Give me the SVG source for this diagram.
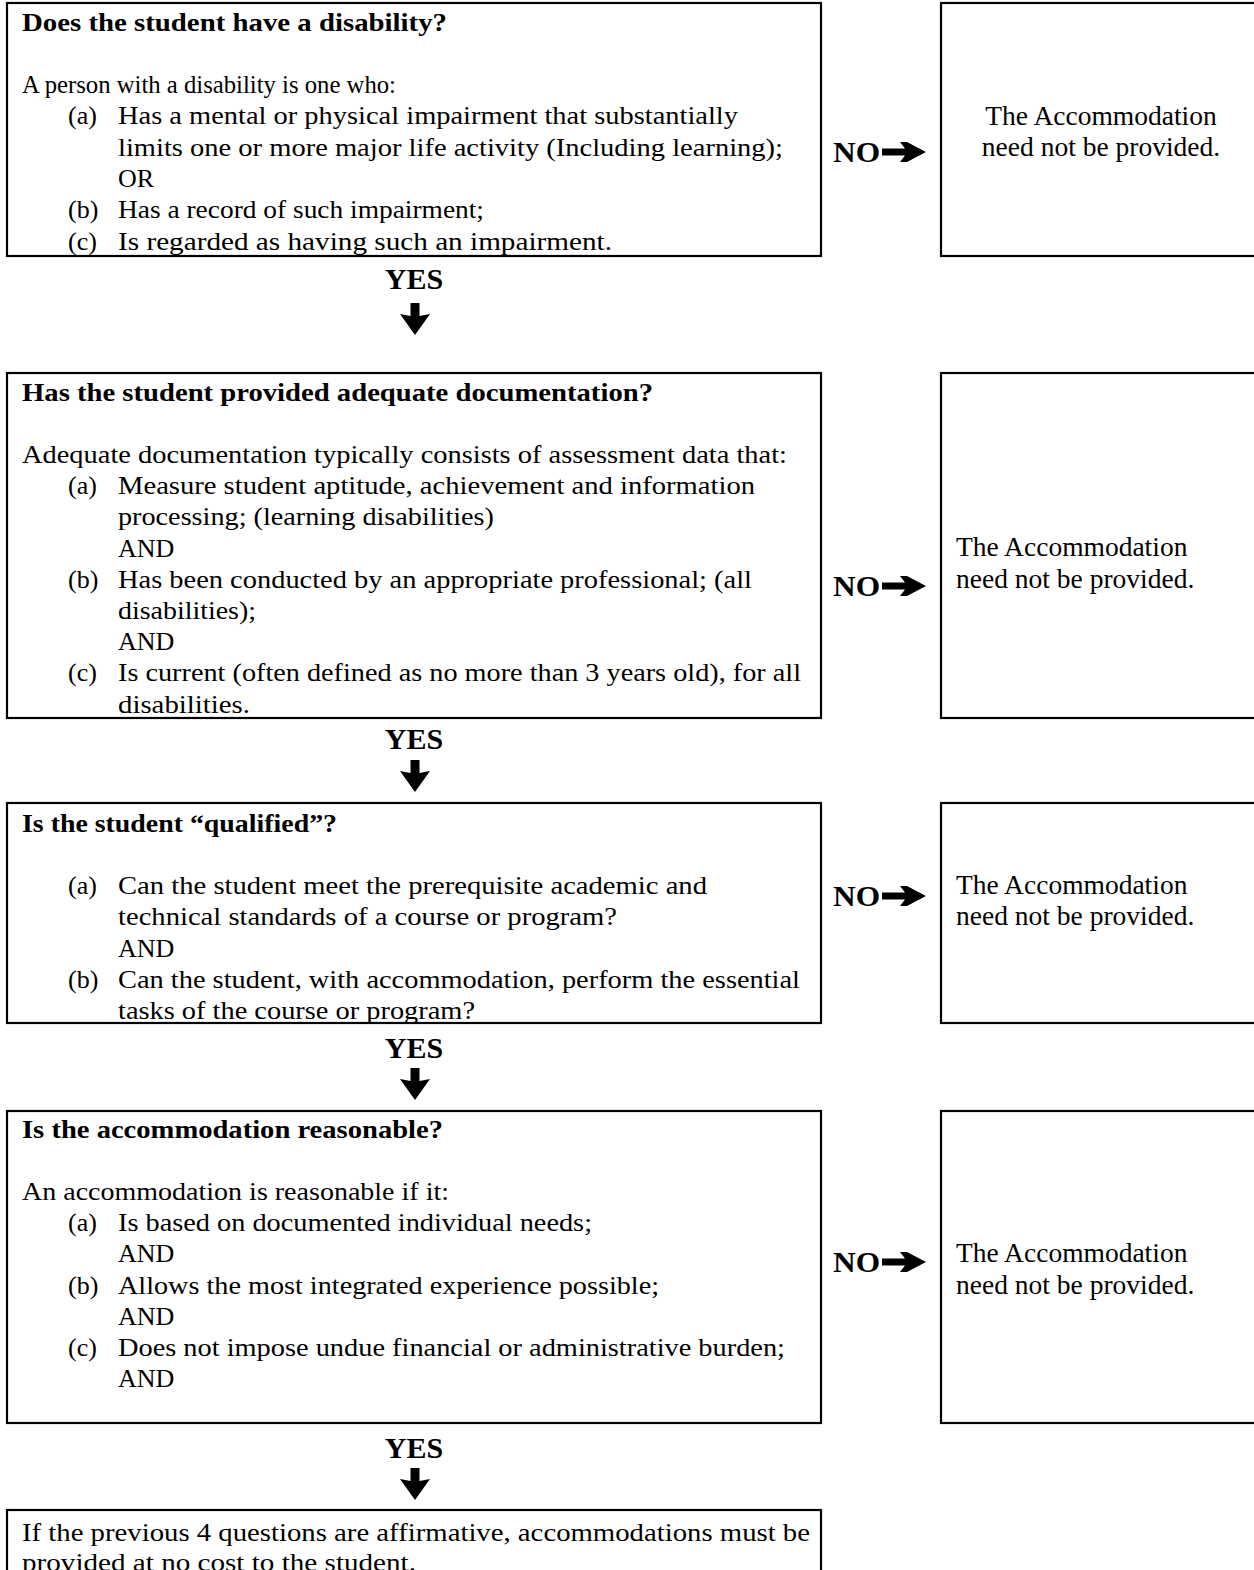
<svg xmlns="http://www.w3.org/2000/svg" width="1254" height="1570" viewBox="0 0 1254 1570">
<style>
.box{fill:#fff;stroke:#000;stroke-width:2.2}
.t{font-family:"Liberation Serif","DejaVu Serif",serif;font-size:26px;fill:#000}
.b{font-weight:bold}
.r{font-family:"Liberation Serif","DejaVu Serif",serif;font-size:27.5px;fill:#000}
.lbl{font-family:"Liberation Serif","DejaVu Serif",serif;font-size:30px;font-weight:bold;fill:#000}
.arr{fill:#000}
</style>
<defs>
<polygon id="down" points="-4.5,0 4.5,0 4.5,13 15,11 0,32 -15,11 -4.5,13"/>
<polygon id="right" points="0,-3.5 23,-3.5 18,-10 25,-10 44,0 25,10 18,10 23,3.5 0,3.5"/>
</defs>
<rect width="1254" height="1570" fill="#fff"/>

<g id="q1">
<rect class="box" x="7" y="3" width="814" height="253"/>
<text class="t b" x="22" y="31" textLength="425" lengthAdjust="spacingAndGlyphs">Does the student have a disability?</text>
<text class="t" x="22" y="93" textLength="374" lengthAdjust="spacingAndGlyphs">A person with a disability is one who:</text>
<text class="t" x="68" y="124">(a)</text>
<text class="t" x="118" y="124" textLength="620" lengthAdjust="spacingAndGlyphs">Has a mental or physical impairment that substantially</text>
<text class="t" x="118" y="156" textLength="665" lengthAdjust="spacingAndGlyphs">limits one or more major life activity (Including learning);</text>
<text class="t" x="118" y="187">OR</text>
<text class="t" x="68" y="218">(b)</text>
<text class="t" x="118" y="218" textLength="366" lengthAdjust="spacingAndGlyphs">Has a record of such impairment;</text>
<text class="t" x="68" y="250">(c)</text>
<text class="t" x="118" y="250" textLength="494" lengthAdjust="spacingAndGlyphs">Is regarded as having such an impairment.</text>
</g>

<g id="n1">
<rect class="box" x="941" y="3" width="330" height="253"/>
<text class="r" x="1101" y="125" text-anchor="middle">The Accommodation</text>
<text class="r" x="1101" y="156" text-anchor="middle">need not be provided.</text>
</g>

<g id="q2">
<rect class="box" x="7" y="373" width="814" height="345"/>
<text class="t b" x="22" y="401" textLength="631" lengthAdjust="spacingAndGlyphs">Has the student provided adequate documentation?</text>
<text class="t" x="22" y="463" textLength="765" lengthAdjust="spacingAndGlyphs">Adequate documentation typically consists of assessment data that:</text>
<text class="t" x="68" y="494">(a)</text>
<text class="t" x="118" y="494" textLength="637" lengthAdjust="spacingAndGlyphs">Measure student aptitude, achievement and information</text>
<text class="t" x="118" y="525" textLength="376" lengthAdjust="spacingAndGlyphs">processing; (learning disabilities)</text>
<text class="t" x="118" y="557">AND</text>
<text class="t" x="68" y="588">(b)</text>
<text class="t" x="118" y="588" textLength="634" lengthAdjust="spacingAndGlyphs">Has been conducted by an appropriate professional; (all</text>
<text class="t" x="118" y="619" textLength="138" lengthAdjust="spacingAndGlyphs">disabilities);</text>
<text class="t" x="118" y="650">AND</text>
<text class="t" x="68" y="681">(c)</text>
<text class="t" x="118" y="681" textLength="683" lengthAdjust="spacingAndGlyphs">Is current (often defined as no more than 3 years old), for all</text>
<text class="t" x="118" y="713" textLength="132" lengthAdjust="spacingAndGlyphs">disabilities.</text>
</g>

<g id="n2">
<rect class="box" x="941" y="373" width="330" height="345"/>
<text class="r" x="956" y="556">The Accommodation</text>
<text class="r" x="956" y="588">need not be provided.</text>
</g>

<g id="q3">
<rect class="box" x="7" y="803" width="814" height="220"/>
<text class="t b" x="22" y="832" textLength="315" lengthAdjust="spacingAndGlyphs">Is the student “qualified”?</text>
<text class="t" x="68" y="894">(a)</text>
<text class="t" x="118" y="894" textLength="589" lengthAdjust="spacingAndGlyphs">Can the student meet the prerequisite academic and</text>
<text class="t" x="118" y="925" textLength="499" lengthAdjust="spacingAndGlyphs">technical standards of a course or program?</text>
<text class="t" x="118" y="957">AND</text>
<text class="t" x="68" y="988">(b)</text>
<text class="t" x="118" y="988" textLength="682" lengthAdjust="spacingAndGlyphs">Can the student, with accommodation, perform the essential</text>
<text class="t" x="118" y="1019" textLength="357" lengthAdjust="spacingAndGlyphs">tasks of the course or program?</text>
</g>

<g id="n3">
<rect class="box" x="941" y="803" width="330" height="220"/>
<text class="r" x="956" y="894">The Accommodation</text>
<text class="r" x="956" y="925">need not be provided.</text>
</g>

<g id="q4">
<rect class="box" x="7" y="1111" width="814" height="312"/>
<text class="t b" x="22" y="1138" textLength="421" lengthAdjust="spacingAndGlyphs">Is the accommodation reasonable?</text>
<text class="t" x="22" y="1200" textLength="427" lengthAdjust="spacingAndGlyphs">An accommodation is reasonable if it:</text>
<text class="t" x="68" y="1231">(a)</text>
<text class="t" x="118" y="1231" textLength="474" lengthAdjust="spacingAndGlyphs">Is based on documented individual needs;</text>
<text class="t" x="118" y="1262">AND</text>
<text class="t" x="68" y="1294">(b)</text>
<text class="t" x="118" y="1294" textLength="541" lengthAdjust="spacingAndGlyphs">Allows the most integrated experience possible;</text>
<text class="t" x="118" y="1325">AND</text>
<text class="t" x="68" y="1356">(c)</text>
<text class="t" x="118" y="1356" textLength="667" lengthAdjust="spacingAndGlyphs">Does not impose undue financial or administrative burden;</text>
<text class="t" x="118" y="1387">AND</text>
</g>

<g id="n4">
<rect class="box" x="941" y="1111" width="330" height="312"/>
<text class="r" x="956" y="1262">The Accommodation</text>
<text class="r" x="956" y="1294">need not be provided.</text>
</g>

<g id="result">
<rect class="box" x="7" y="1510" width="814" height="100"/>
<text class="t" x="22" y="1541" textLength="788" lengthAdjust="spacingAndGlyphs">If the previous 4 questions are affirmative, accommodations must be</text>
<text class="t" x="22" y="1571" textLength="394" lengthAdjust="spacingAndGlyphs">provided at no cost to the student.</text>
</g>

<g id="connectors">
<text class="lbl" x="414" y="289" text-anchor="middle">YES</text>
<use href="#down" class="arr" x="415" y="303"/>
<text class="lbl" x="414" y="749" text-anchor="middle">YES</text>
<use href="#down" class="arr" x="415" y="760"/>
<text class="lbl" x="414" y="1058" text-anchor="middle">YES</text>
<use href="#down" class="arr" x="415" y="1068"/>
<text class="lbl" x="414" y="1458" text-anchor="middle">YES</text>
<use href="#down" class="arr" x="415" y="1468"/>

<text class="lbl" x="833" y="162" textLength="47" lengthAdjust="spacingAndGlyphs">NO</text>
<use href="#right" class="arr" x="882" y="152"/>
<text class="lbl" x="833" y="596" textLength="47" lengthAdjust="spacingAndGlyphs">NO</text>
<use href="#right" class="arr" x="882" y="586"/>
<text class="lbl" x="833" y="906" textLength="47" lengthAdjust="spacingAndGlyphs">NO</text>
<use href="#right" class="arr" x="882" y="896"/>
<text class="lbl" x="833" y="1272" textLength="47" lengthAdjust="spacingAndGlyphs">NO</text>
<use href="#right" class="arr" x="882" y="1262"/>
</g>
</svg>
